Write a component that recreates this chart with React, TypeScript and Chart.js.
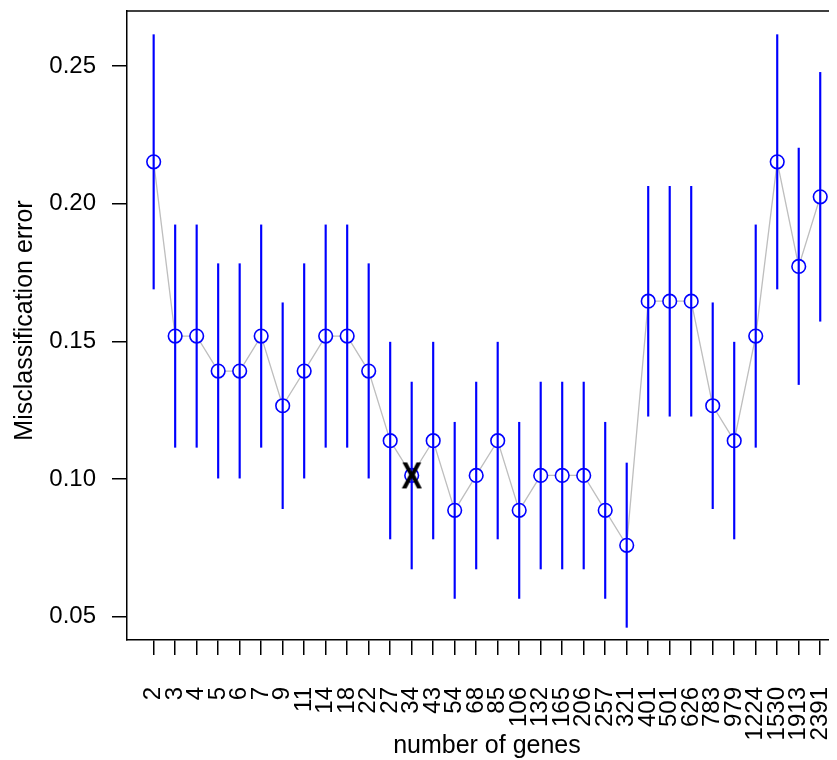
import React, { useEffect, useRef } from 'react';
import { Chart, registerables } from 'chart.js';

Chart.register(...registerables);

// ---- data ----
const categories = ['2', '3', '4', '5', '6', '7', '9', '11', '14', '18', '22', '27', '34', '43', '54', '68', '85', '106', '132', '165', '206', '257', '321', '401', '501', '626', '783', '979', '1224', '1530', '1913', '2391'];

const errorRate = [0.2152, 0.1519, 0.1519, 0.1392, 0.1392, 0.1519, 0.1266, 0.1392, 0.1519, 0.1519, 0.1392, 0.1139, 0.1013, 0.1139, 0.0886, 0.1013, 0.1139, 0.0886, 0.1013, 0.1013, 0.1013, 0.0886, 0.0759, 0.1646, 0.1646, 0.1646, 0.1266, 0.1139, 0.1519, 0.2152, 0.1772, 0.2025];

const lowerBound = [0.1690, 0.1115, 0.1115, 0.1003, 0.1003, 0.1115, 0.0892, 0.1003, 0.1115, 0.1115, 0.1003, 0.0782, 0.0673, 0.0782, 0.0566, 0.0673, 0.0782, 0.0566, 0.0673, 0.0673, 0.0673, 0.0566, 0.0461, 0.1228, 0.1228, 0.1228, 0.0892, 0.0782, 0.1115, 0.1690, 0.1343, 0.1573];

const upperBound = [0.2614, 0.1923, 0.1923, 0.1782, 0.1782, 0.1923, 0.1640, 0.1782, 0.1923, 0.1923, 0.1782, 0.1497, 0.1352, 0.1497, 0.1206, 0.1352, 0.1497, 0.1206, 0.1352, 0.1352, 0.1352, 0.1206, 0.1058, 0.2063, 0.2063, 0.2063, 0.1640, 0.1497, 0.1923, 0.2614, 0.2202, 0.2477];

const yTickValues = [0.05, 0.1, 0.15, 0.2, 0.25];
const bestIndex = 12; // "34" genes, marked with X

const xTitle = 'number of genes';
const yTitle = 'Misclassification error';

const FONT = '"Liberation Sans", Arial, Helvetica, sans-serif';

const framePlugin = {
  id: 'frameAndTitles',
  afterDraw(chart: any) {
    const { ctx, chartArea, scales } = chart;
    ctx.save();
    ctx.strokeStyle = '#000';
    ctx.lineWidth = 1.5;
    ctx.beginPath();
    ctx.moveTo(chartArea.left, chartArea.top);
    ctx.lineTo(chartArea.right + 2, chartArea.top);
    ctx.stroke();

    ctx.fillStyle = '#000';
    ctx.font = `25px ${FONT}`;
    ctx.textAlign = 'center';
    ctx.textBaseline = 'alphabetic';
    const mid = (scales.x.min + 32.24) / 2;
    ctx.fillText(xTitle, scales.x.getPixelForValue(mid), chartArea.bottom + 113);

    ctx.translate(23.7, (chartArea.top + chartArea.bottom) / 2 - 5);
    ctx.rotate(-Math.PI / 2);
    ctx.fillText(yTitle, 0, 0);
    ctx.restore();
  },
};

function makeXMarker(): HTMLCanvasElement {
  const c = document.createElement('canvas');
  c.width = 40;
  c.height = 40;
  const g = c.getContext('2d')!;
  g.fillStyle = '#000';
  g.font = `bold 36px ${FONT}`;
  g.textAlign = 'center';
  g.textBaseline = 'alphabetic';
  g.save();
  g.translate(20, 0);
  g.scale(0.86, 1);
  g.fillText('X', 0, 20 + 13);
  g.restore();
  return c;
}

export default function App() {
  const canvasRef = useRef<HTMLCanvasElement | null>(null);

  useEffect(() => {
    if (!canvasRef.current) return;
    const pts = errorRate.map((v, i) => ({ x: i, y: v }));
    const bars = categories.map((_, i) => ({ x: i, y: [lowerBound[i], upperBound[i]] }));
    const marker = makeXMarker();

    const chart = new Chart(canvasRef.current, {
      type: 'scatter',
      data: {
        datasets: [
          {
            type: 'line',
            data: pts,
            borderColor: '#bebebe',
            borderWidth: 1.3,
            pointRadius: 0,
            tension: 0,
            fill: false,
            order: 5,
          } as any,
          {
            type: 'scatter',
            data: pts,
            pointRadius: 6.5,
            pointBorderWidth: 0,
            pointBackgroundColor: '#ffffff',
            pointBorderColor: 'rgba(0,0,0,0)',
            order: 4,
          } as any,
          {
            type: 'bar',
            data: bars,
            backgroundColor: '#0000ff',
            borderWidth: 0,
            barThickness: 1.5,
            grouped: false,
            order: 3,
          } as any,
          {
            type: 'scatter',
            data: pts,
            pointRadius: 6.8,
            pointBorderWidth: 1.6,
            pointBackgroundColor: 'rgba(0,0,0,0)',
            pointBorderColor: '#0000ff',
            order: 2,
          } as any,
          {
            type: 'scatter',
            data: [{ x: bestIndex, y: errorRate[bestIndex] }],
            pointStyle: marker,
            pointRadius: 10,
            order: 1,
          } as any,
        ],
      },
      options: {
        animation: false,
        responsive: true,
        maintainAspectRatio: false,
        events: [],
        layout: { autoPadding: false, padding: { top: 3, right: 0, left: 0, bottom: 0 } },
        plugins: { legend: { display: false }, tooltip: { enabled: false } },
        scales: {
          x: {
            type: 'linear',
            min: -1.24,
            max: 31.78,
            offset: false,
            afterBuildTicks: (scale: any) => {
              scale.ticks = categories.map((_, i) => ({ value: i }));
            },
            afterFit: (scale: any) => {
              scale.height = 120;
              scale.paddingLeft = 0;
              scale.paddingRight = 0;
            },
            ticks: {
              autoSkip: false,
              minRotation: 90,
              maxRotation: 90,
              padding: 32,
              color: '#000',
              font: { family: FONT, size: 24 },
              callback: (v: any) => categories[Math.round(Number(v))] ?? '',
            },
            grid: {
              offset: false,
              drawOnChartArea: false,
              drawTicks: true,
              tickLength: 15,
              color: '#000',
              lineWidth: 1.5,
            },
            border: { display: true, color: '#000', width: 1.5 },
          },
          y: {
            type: 'linear',
            min: 0.0415,
            max: 0.27,
            afterBuildTicks: (scale: any) => {
              scale.ticks = yTickValues.map((v) => ({ value: v }));
            },
            afterFit: (scale: any) => {
              scale.width = 119;
              scale.paddingTop = 0;
              scale.paddingBottom = 0;
            },
            ticks: {
              padding: 16,
              color: '#000',
              font: { family: FONT, size: 24 },
              callback: (v: any) => Number(v).toFixed(2),
            },
            grid: {
              drawOnChartArea: false,
              drawTicks: true,
              tickLength: 15,
              color: '#000',
              lineWidth: 1.5,
            },
            border: { display: true, color: '#000', width: 1.5 },
          },
        },
      },
      plugins: [framePlugin],
    });
    return () => chart.destroy();
  }, []);

  return (
    <div style={{ width: 829, height: 752, position: 'relative' }}>
      <canvas ref={canvasRef} />
    </div>
  );
}
